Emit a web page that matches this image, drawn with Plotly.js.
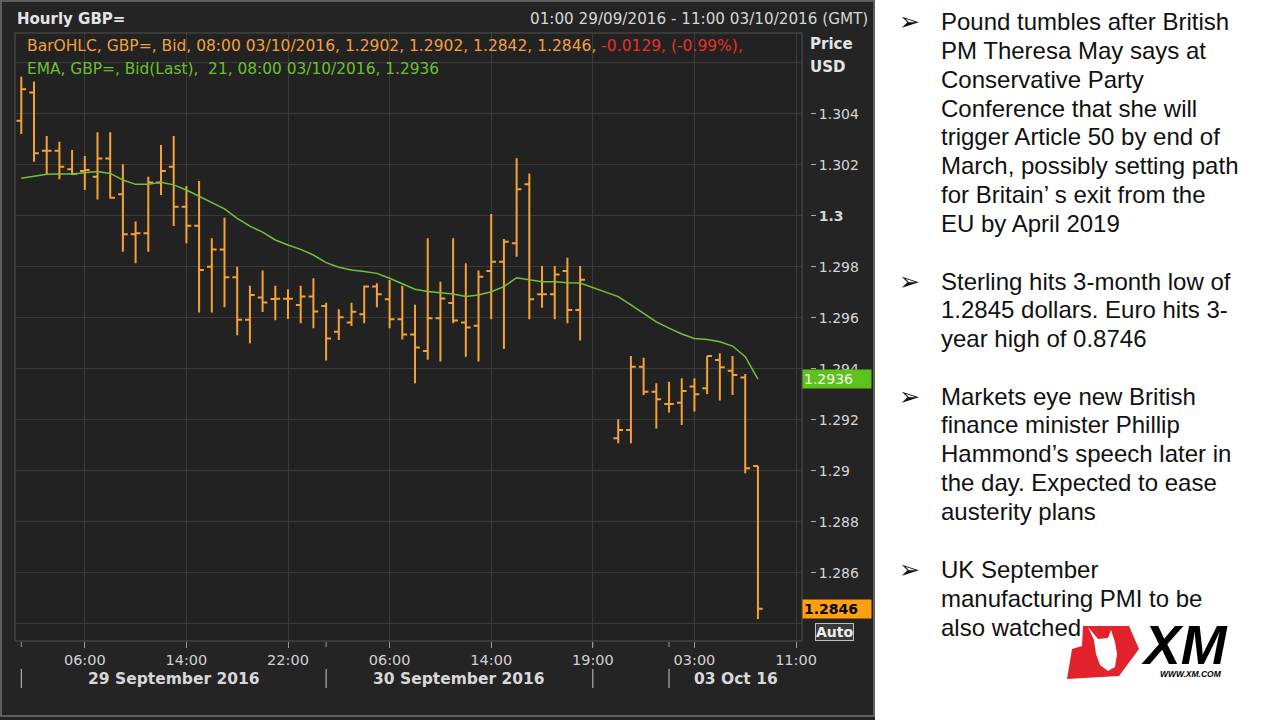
<!DOCTYPE html>
<html><head><meta charset="utf-8">
<script src="https://cdn.plot.ly/plotly-3.0.1.min.js"></script>
<style>html,body{margin:0;padding:0;background:#fff;}#chart{width:1280px;height:720px;}</style>
</head><body><div id="chart"></div>
<script>
// ---------- DATA ----------
// hourly slots (index 0 = 01:00 29/09/2016); slots 45-46 (Sun 19:00-20:00) have no bars
const slot = [0,1,2,3,4,5,6,7,8,9,10,11,12,13,14,15,16,17,18,19,20,21,22,23,24,25,26,27,28,29,30,31,32,33,34,35,36,37,38,39,40,41,42,43,44,
  47,48,49,50,51,52,53,54,55,56,57,58];
const open = [1.30373,1.30484,1.30256,1.30256,1.30183,1.30176,1.30154,1.30225,1.30085,1.29928,
  1.29932,1.30131,1.30193,1.30036,1.29962,1.29801,1.29869,1.29760,1.29593,1.29680,
  1.29674,1.29675,1.29651,1.29684,1.29647,1.29546,1.29582,1.29615,1.29723,1.29673,
  1.29595,1.29535,1.29471,1.29599,1.29659,1.29582,1.29570,1.29784,1.29821,1.29893,
  1.30124,1.29693,1.29693,1.29784,1.29631,
  1.29128,1.29161,1.29409,1.29311,1.29263,1.29268,1.29331,1.29324,1.29435,1.29393,1.29367,1.2902];
const high = [1.30546,1.30527,1.30314,1.30291,1.30259,1.30235,1.30328,1.30328,1.30203,1.29978,
  1.30154,1.30278,1.30314,1.30118,1.30137,1.29913,1.29993,1.29801,1.29726,1.29786,
  1.29726,1.29713,1.29726,1.29756,1.29660,1.29634,1.29660,1.29726,1.29736,1.29749,
  1.29726,1.29652,1.29913,1.29742,1.29913,1.29815,1.29786,1.30008,1.29910,1.30226,
  1.30167,1.29804,1.29804,1.29836,1.29804,
  1.29203,1.29451,1.29444,1.29344,1.29350,1.29364,1.29364,1.29451,1.29462,1.29451,1.29380,1.2902];
const low = [1.30322,1.30213,1.30165,1.30144,1.30161,1.30102,1.30065,1.30069,1.29860,1.29815,
  1.29860,1.30082,1.29961,1.29893,1.29622,1.29622,1.29642,1.29532,1.29501,1.29623,
  1.29591,1.29596,1.29579,1.29560,1.29433,1.29514,1.29569,1.29579,1.29642,1.29560,
  1.29516,1.29344,1.29436,1.29429,1.29579,1.29448,1.29429,1.29595,1.29478,1.29840,
  1.29595,1.29640,1.29595,1.29579,1.29512,
  1.29109,1.29109,1.29298,1.29167,1.29229,1.29180,1.29233,1.29302,1.29276,1.29298,1.28991,1.2842];
const close = [1.30497,1.30246,1.30256,1.30193,1.30165,1.30180,1.30225,1.30072,1.29928,1.29932,
  1.30131,1.30176,1.30036,1.29962,1.29788,1.29869,1.29760,1.29593,1.29690,1.29661,
  1.29675,1.29675,1.29684,1.29625,1.29520,1.29603,1.29624,1.29723,1.29693,1.29595,
  1.29535,1.29484,1.29599,1.29676,1.29590,1.29563,1.29762,1.29821,1.29899,1.30105,
  1.29673,1.29693,1.29771,1.29631,1.2975,
  1.29161,1.29409,1.29311,1.29281,1.29263,1.29314,1.29301,1.29451,1.29407,1.29376,1.29011,1.2846];
const ema = [1.30148,1.30157,1.30164,1.30165,1.30165,1.30170,1.30174,1.30167,1.30141,1.30124,
  1.30124,1.30132,1.30122,1.30102,1.30078,1.30054,1.30028,1.29991,1.29960,1.29937,
  1.29906,1.29886,1.29869,1.29847,1.29817,1.29799,1.29788,1.29782,1.29775,1.29756,
  1.29736,1.29713,1.29704,1.29699,1.29694,1.29684,1.29690,1.29703,1.29723,1.29758,
  1.29749,1.29742,1.29742,1.29738,1.29737,
  1.29684,1.29651,1.29618,1.29585,1.29560,1.29537,1.29520,1.29516,1.29507,1.29490,1.29448,1.2936];
const prevClose = 1.2975;            // Friday 30/09 close
const lastTime = '08:00 03/10/2016';

const tickSlots = [5,13,21,29,37,45,53,61];
const tickLabels = ['06:00','14:00','22:00','06:00','14:00','19:00','03:00','11:00'];
const daySeparators = [0,24,45,51];
const dayLabels = ['29 September 2016','30 September 2016','','03 Oct 16'];

const priceTicks = [1.286,1.288,1.29,1.292,1.294,1.296,1.298,1.3,1.302,1.304];
const priceLabels = ['1.286','1.288','1.29','1.292','1.294','1.296','1.298','<b>1.3</b>','1.302','1.304'];

const headerLeft = 'Hourly GBP=';
const headerRight = '01:00 29/09/2016 - 11:00 03/10/2016 (GMT)';

const notes = [
  ['Pound tumbles after British','PM Theresa May says at','Conservative Party','Conference that she will',
   'trigger Article 50 by end of','March, possibly setting path','for Britain\u2019 s exit from the','EU by April 2019'],
  ['Sterling hits 3-month low of','1.2845 dollars. Euro hits 3-','year high of 0.8746'],
  ['Markets eye new British','finance minister Phillip','Hammond\u2019s speech later in','the day. Expected to ease','austerity plans'],
  ['UK September','manufacturing PMI to be','also watched']
];

// ---------- LAYOUT HELPERS ----------
const W=1280,H=720, ML=15, MR=470, MT=33, MB=79;
const PW=W-ML-MR, PH=H-MT-MB;
const px = X => (X-ML)/PW;
const py = Y => (H-MB-Y)/PH;
const xDomEnd = px(802);
const yRange = [1.283333, 1.307176];
const xRange = [-0.496, 61.47];
const CF = 'DejaVu Sans';
const ORANGE = '#f4a236', GREEN = '#74c13a';

const n = close.length;
const lastO=open[n-1], lastH=high[n-1], lastL=low[n-1], lastC=close[n-1];
const chg = lastC - prevClose;
const pct = chg/prevClose*100;

const traces = [
  {type:'ohlc', x:slot, open:open, high:high, low:low, close:close, tickwidth:0.38,
   increasing:{line:{color:ORANGE,width:2}}, decreasing:{line:{color:ORANGE,width:2}},
   hoverinfo:'skip', showlegend:false},
  {type:'scatter', mode:'lines', x:slot, y:ema, line:{color:GREEN,width:1.5},
   hoverinfo:'skip', showlegend:false}
];

const shapes = [];
const annotations = [];
// right white panel & outer frame
shapes.push({type:'rect', xref:'paper', yref:'paper', x0:px(875), x1:px(1281), y0:py(721), y1:py(-1),
  fillcolor:'#ffffff', line:{width:0}, layer:'below'});
shapes.push({type:'rect', xref:'paper', yref:'paper', x0:px(1), x1:px(874), y0:py(716), y1:py(1),
  fillcolor:'rgba(0,0,0,0)', line:{color:'#5e5e5e', width:2}, layer:'below'});
// plot box
shapes.push({type:'rect', xref:'paper', yref:'paper', x0:0, x1:xDomEnd, y0:0, y1:1,
  fillcolor:'rgba(0,0,0,0)', line:{color:'#505050', width:1}, layer:'above'});
// day separators
daySeparators.forEach(s=>{
  shapes.push({type:'line', xref:'x', yref:'paper', x0:s, x1:s, y0:py(669), y1:py(688), line:{color:'#c8c8c8', width:1}});
  shapes.push({type:'line', xref:'x', yref:'paper', x0:s, x1:s, y0:py(642), y1:py(647), line:{color:'#999', width:1}});
});
// day labels
const bounds = daySeparators.concat([xRange[1]]);
dayLabels.forEach((t,i)=>{
  if(!t) return;
  annotations.push({xref:'x', yref:'paper', x:(bounds[i]+bounds[i+1])/2, y:py(679), text:'<b>'+t+'</b>',
    showarrow:false, xanchor:'center', yanchor:'middle', font:{family:CF, size:15.5, color:'#d8d8d8'}});
});
// headers
annotations.push({xref:'paper', yref:'paper', x:px(15), y:py(19), text:'<b>'+headerLeft+'</b>', showarrow:false,
  xanchor:'left', yanchor:'middle', font:{family:CF, size:15, color:'#e4e4e4'}});
annotations.push({xref:'paper', yref:'paper', x:px(870), y:py(19), text:headerRight, showarrow:false,
  xanchor:'right', yanchor:'middle', font:{family:CF, size:15.2, color:'#d6d6d6'}});
annotations.push({xref:'paper', yref:'paper', x:px(25), y:py(46),
  text:'BarOHLC, GBP=, Bid, '+lastTime+', '+lastO.toFixed(4)+', '+lastH.toFixed(4)+', '+lastL.toFixed(4)+', '+lastC.toFixed(4)+', '+
       '<span style="color:#e8312a">'+chg.toFixed(4)+', ('+pct.toFixed(2)+'%),</span>',
  showarrow:false, xanchor:'left', yanchor:'middle', font:{family:CF, size:15.5, color:'#f0a040'}});
annotations.push({xref:'paper', yref:'paper', x:px(25), y:py(69),
  text:'EMA, GBP=, Bid(Last),\u00a0 21, '+lastTime+', '+ema[n-1].toFixed(4),
  showarrow:false, xanchor:'left', yanchor:'middle', font:{family:CF, size:15.4, color:'#6cc02c'}});
annotations.push({xref:'paper', yref:'paper', x:px(808), y:py(44), text:'<b>Price</b>', showarrow:false,
  xanchor:'left', yanchor:'middle', font:{family:CF, size:15, color:'#e4e4e4'}});
annotations.push({xref:'paper', yref:'paper', x:px(808), y:py(67), text:'<b>USD</b>', showarrow:false,
  xanchor:'left', yanchor:'middle', font:{family:CF, size:15, color:'#e4e4e4'}});
// value tags
annotations.push({xref:'paper', yref:'y', x:px(802), y:ema[n-1], text:ema[n-1].toFixed(4), showarrow:false,
  xanchor:'left', yanchor:'middle', align:'left', width:66, bgcolor:'#5ec21c', borderpad:1,
  font:{family:CF, size:14, color:'#f4f4f4'}});
annotations.push({xref:'paper', yref:'y', x:px(802), y:lastC, text:'<b>'+lastC.toFixed(4)+'</b>', showarrow:false,
  xanchor:'left', yanchor:'middle', align:'left', width:66, bgcolor:'#ffa010', borderpad:1,
  font:{family:CF, size:14, color:'#000'}});
annotations.push({xref:'paper', yref:'paper', x:px(834), y:py(632), text:'<b>Auto</b>', showarrow:false,
  xanchor:'center', yanchor:'middle', bgcolor:'#3a3a3a', bordercolor:'#c0c0c0', borderwidth:1, borderpad:0,
  font:{family:CF, size:14, color:'#f0f0f0'}});

// right panel notes
const groupStart = [21.7, 281, 396, 569.5];
const lineGap = 28.8;
notes.forEach((g,gi)=>{
  annotations.push({xref:'paper', yref:'paper', x:px(909), y:py(groupStart[gi]), text:'\u27a2', showarrow:false,
    xanchor:'center', yanchor:'middle', font:{family:'DejaVu Sans', size:25, color:'#111'}});
  g.forEach((t,li)=>{
    annotations.push({xref:'paper', yref:'paper', x:px(939), y:py(groupStart[gi]+li*lineGap), text:t, showarrow:false,
      xanchor:'left', yanchor:'middle', font:{family:'Liberation Sans', size:24, color:'#111'}});
  });
});

// XM logo
const pth = pts => 'M '+pts.map(p=>px(p[0])+','+py(p[1])).join(' L ')+' Z';
shapes.push({type:'path', xref:'paper', yref:'paper', layer:'above',
  path:pth([[1083,626],[1129,626],[1139,649],[1119,676],[1067,679],[1072,649],[1082,646]]),
  fillcolor:'#e3232b', line:{width:0}});
shapes.push({type:'path', xref:'paper', yref:'paper', layer:'above',
  path:pth([[1088,627],[1094,640],[1096,654],[1100,665],[1108,671],[1115,667],[1117,654],[1115,642],[1111,630],[1108,638],[1098,639]]),
  fillcolor:'#ffffff', line:{width:0}});
annotations.push({xref:'paper', yref:'paper', x:px(1184), y:py(645), text:'<b><i>XM</i></b>', showarrow:false,
  xanchor:'center', yanchor:'middle', font:{family:'Liberation Sans', size:55, color:'#000'}});
annotations.push({xref:'paper', yref:'paper', x:px(1191), y:py(674), text:'<b><i>WWW.XM.COM</i></b>', showarrow:false,
  xanchor:'center', yanchor:'middle', font:{family:'Liberation Sans', size:8.5, color:'#000'}});

const layout = {
  width:W, height:H, margin:{l:ML, r:MR, t:MT, b:MB, pad:0},
  paper_bgcolor:'#242424', plot_bgcolor:'#222222', showlegend:false,
  xaxis:{range:xRange, domain:[0,xDomEnd], tickmode:'array', tickvals:tickSlots, ticktext:tickLabels,
    ticks:'outside', ticklen:6, tickcolor:'#999', tickfont:{family:CF, size:14.5, color:'#d2d2d2'},
    showgrid:true, gridcolor:'#3a3a3a', zeroline:false, showline:false, rangeslider:{visible:false}, fixedrange:true},
  yaxis:{range:yRange, anchor:'free', position:1, side:'right', tickmode:'array', tickvals:priceTicks, ticktext:priceLabels,
    ticks:'outside', ticklen:5, tickcolor:'#aaa', tickfont:{family:CF, size:14, color:'#d6d6d6'},
    showgrid:true, gridcolor:'#3a3a3a', zeroline:false, showline:false, fixedrange:true,
    minor:{tickmode:'linear', tick0:1.284, dtick:0.002, showgrid:true, gridcolor:'#3a3a3a', ticks:''}},
  shapes:shapes, annotations:annotations
};
Plotly.newPlot('chart', traces, layout, {staticPlot:true, displayModeBar:false});
</script></body></html>
